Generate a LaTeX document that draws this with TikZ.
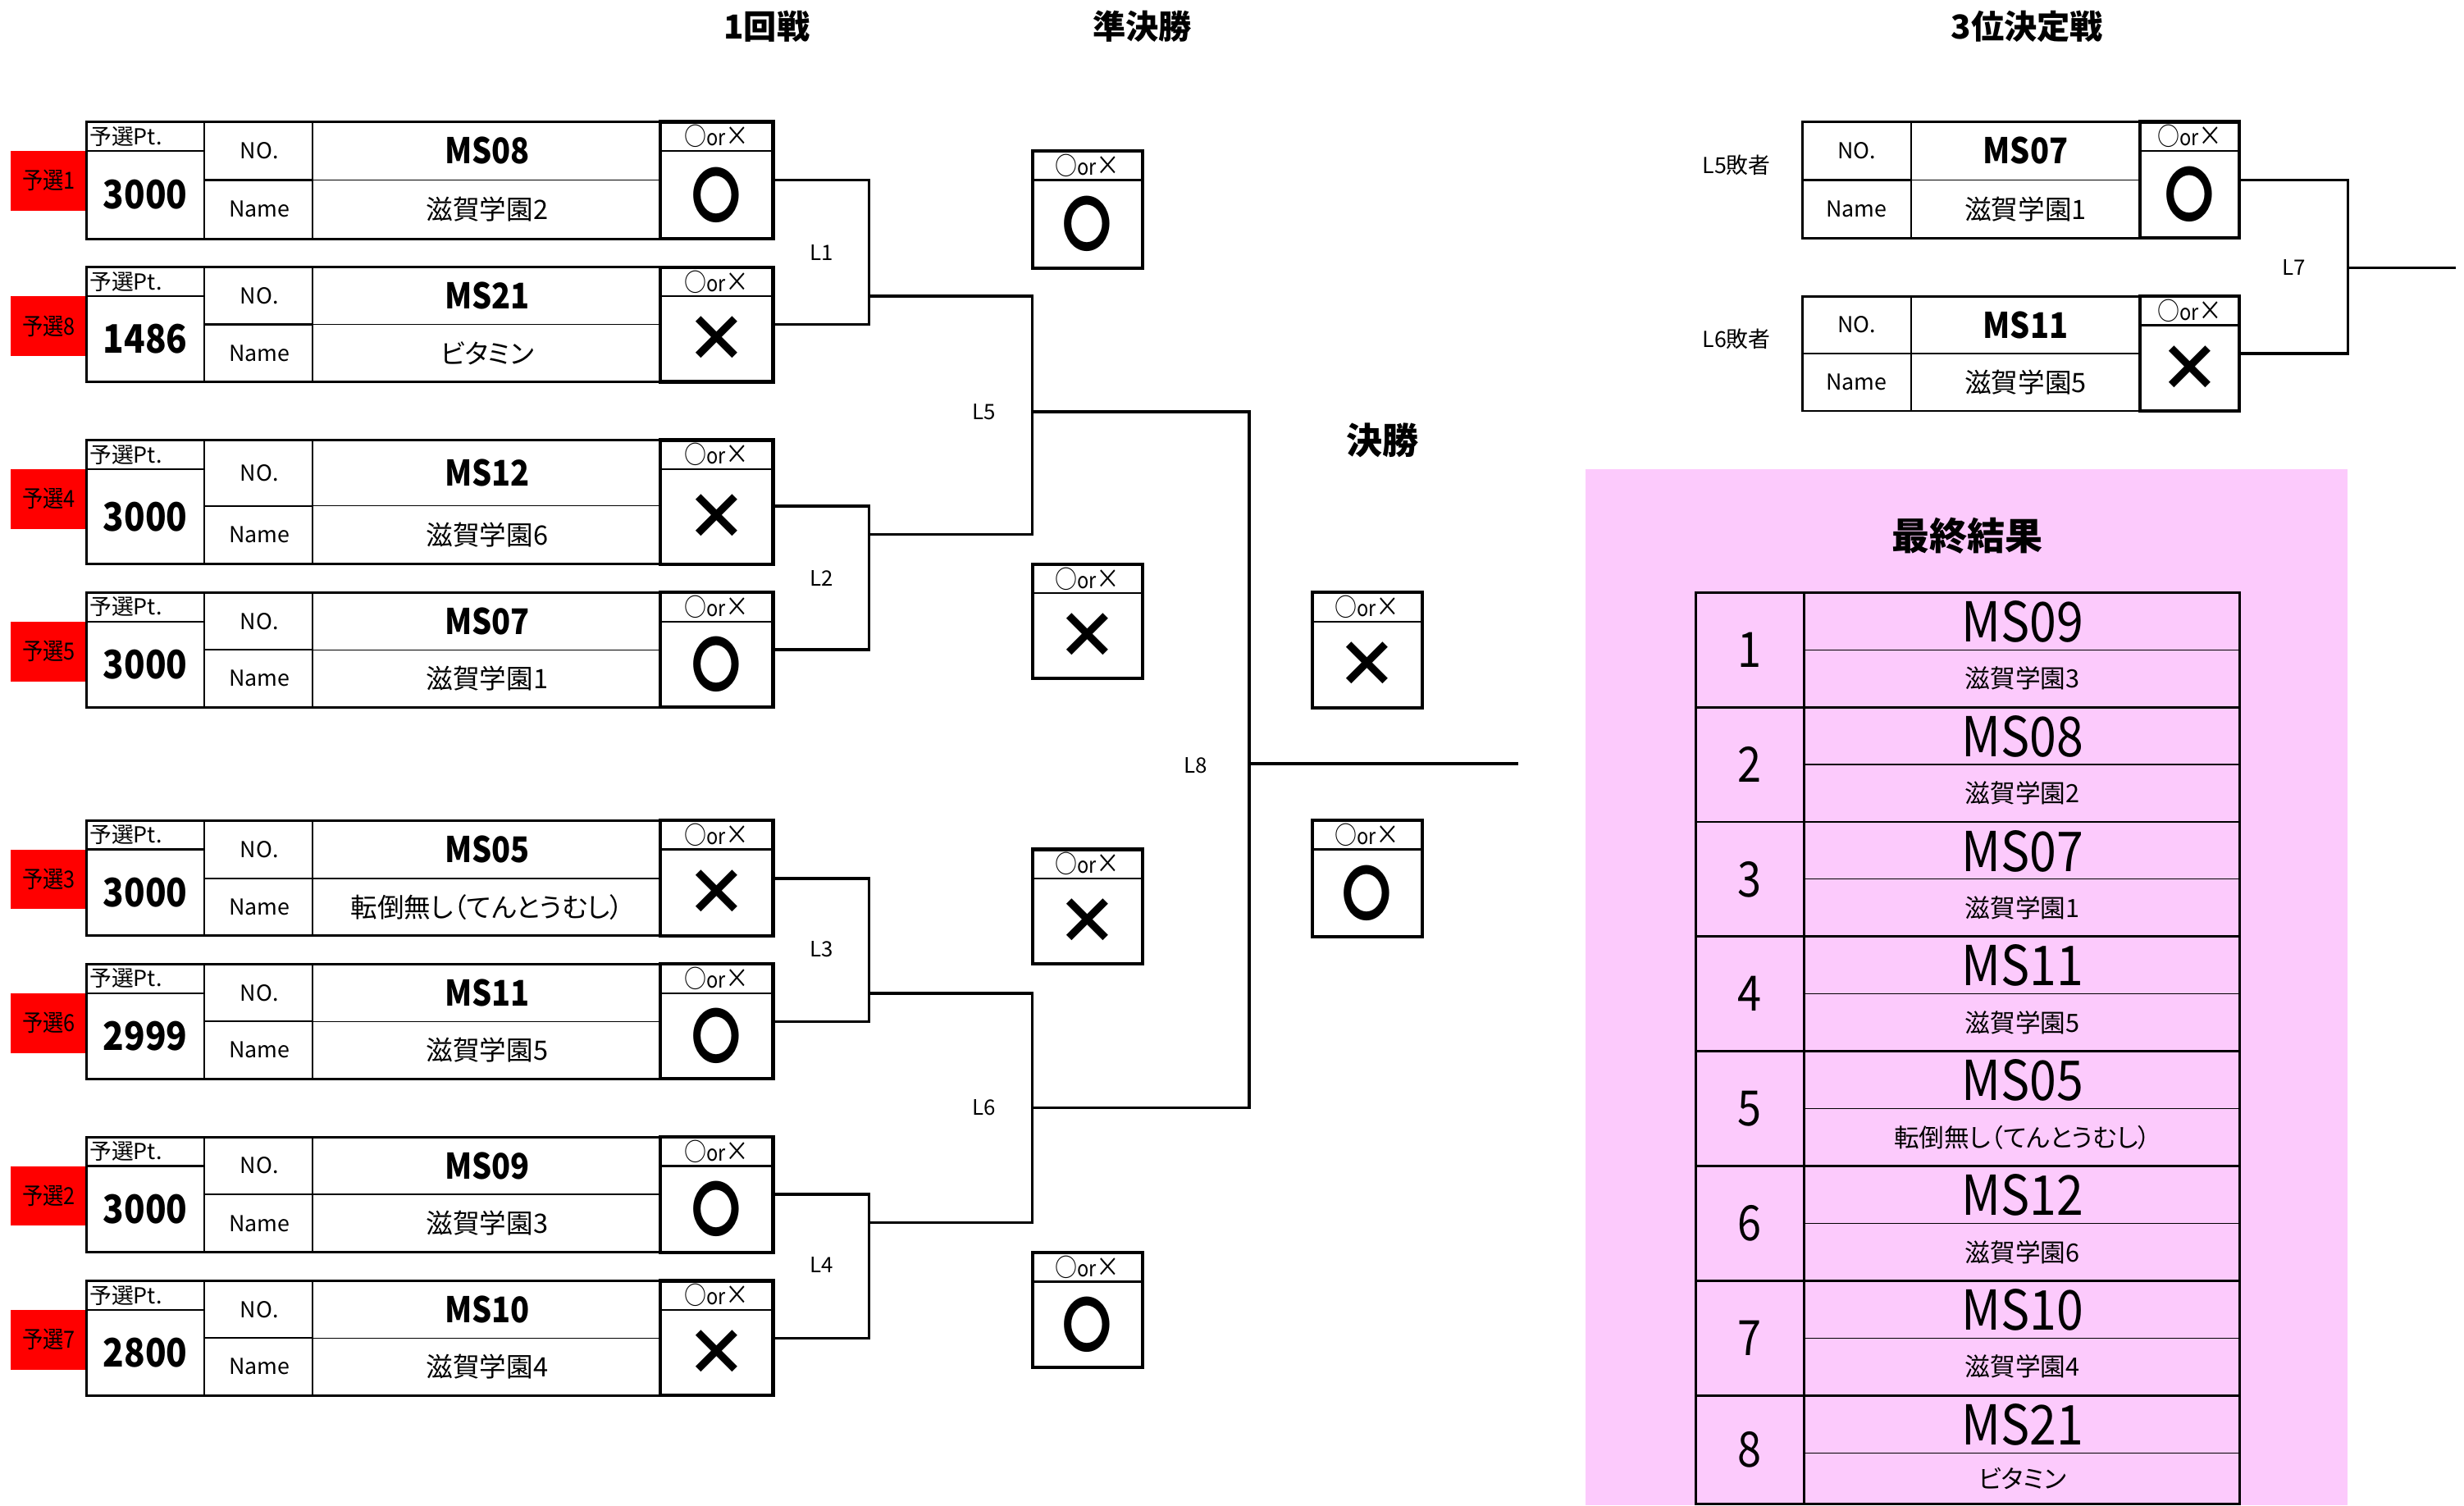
\documentclass[tikz,border=0pt]{standalone}
\usepackage{fontspec}
\setmainfont{Noto Sans CJK JP}[RawFeature=+palt]
\newfontfamily\narrowfont{Noto Sans CJK JP}[FakeStretch=0.88]
\newfontfamily\tallfont{Noto Sans CJK JP}[FakeStretch=0.82]
\definecolor{pinkbg}{RGB}{252,202,252}
\definecolor{labred}{RGB}{255,0,0}
\newcommand{\fs}[1]{\fontsize{#1}{#1}\selectfont}
\newcommand{\omark}{{\bfseries\tallfont\fs{38}〇}}
\newcommand{\xmark}{{\bfseries\fs{40}×}}
\newcommand{\oxhead}{{\narrowfont\fs{16}○\fs{14}or\fs{17}×}}
\tikzset{
  boxline/.style={line width=1.5pt},
  markline/.style={line width=2.2pt},
  midline/.style={line width=1.2pt},
  thinline/.style={line width=0.6pt},
  bracket/.style={line width=1.8pt},
  lbl/.style={inner sep=0pt, outer sep=0pt},
  ttl/.style={lbl, font=\bfseries\fs{21}},
  small/.style={lbl, font=\fs{14}},
  msbold/.style={lbl, font=\bfseries\narrowfont\fs{22.5}},
  team/.style={lbl, font=\fs{17}},
  ptval/.style={lbl, font=\bfseries\narrowfont\fs{25}},
  lnum/.style={lbl, font=\fs{13.5}},
}
% entry: id, top, split, bottom, label, pt, MS, team, mark
\newcommand{\mkentry}[9]{%
  \pgfmathsetmacro{\eH}{#2+18.5}%
  \pgfmathsetmacro{\eR}{\eH+38}%
  \pgfmathsetmacro{\eRm}{\eH+19}%
  \pgfmathsetmacro{\eT}{(#2+#3)/2}%
  \pgfmathsetmacro{\eB}{(#3+#4)/2}%
  \pgfmathsetmacro{\eM}{(\eH+#4)/2}%
  \pgfmathsetmacro{\eHm}{(#2+\eH)/2}%
  \fill[labred] (7,\eH) rectangle (55,\eR);
  \node[lbl, font=\narrowfont\fs{15}] (#1-lab) at (31,\eRm) {#5};
  \draw[midline] (55,\eH) -- (130,\eH);
  \draw[midline] (130,#3) -- (199,#3);
  \draw[thinline] (199,#3) -- (420,#3);
  \draw[midline] (130,#2) -- (130,#4) (199,#2) -- (199,#4);
  \draw[boxline] (55,#2) rectangle (420,#4);
  \draw[midline] (420,\eH) -- (492,\eH);
  \draw[markline] (420,#2) rectangle (492,#4);
  \node[small, anchor=west] (#1-pth) at (57,\eHm) {予選Pt.};
  \node[ptval] (#1-pt) at (92.5,\eM) {#6};
  \node[small] (#1-no) at (165,\eT) {NO.};
  \node[small] (#1-na) at (165,\eB) {Name};
  \node[msbold] (#1-ms) at (310,\eT) {#7};
  \node[team] (#1-tm) at (310,\eB) {#8};
  \node[lbl] (#1-oxh) at (456,\eHm) {\oxhead};
  \node[lbl] (#1-mk) at (456,\eM) {#9};
  \coordinate (#1-out) at (492,#3);
}
% third place entry: id, top, split, bottom, MS, team, mark
\newcommand{\tpentry}[7]{%
  \pgfmathsetmacro{\eH}{#2+18.5}%
  \pgfmathsetmacro{\eT}{(#2+#3)/2}%
  \pgfmathsetmacro{\eB}{(#3+#4)/2}%
  \pgfmathsetmacro{\eM}{(\eH+#4)/2}%
  \pgfmathsetmacro{\eHm}{(#2+\eH)/2}%
  \draw[midline] (1147,#3) -- (1216,#3);
  \draw[thinline] (1216,#3) -- (1362,#3);
  \draw[midline] (1216,#2) -- (1216,#4);
  \draw[boxline] (1147,#2) rectangle (1362,#4);
  \draw[midline] (1362,\eH) -- (1425,\eH);
  \draw[markline] (1362,#2) rectangle (1425,#4);
  \node[small] (#1-no) at (1181.5,\eT) {NO.};
  \node[small] (#1-na) at (1181.5,\eB) {Name};
  \node[msbold] (#1-ms) at (1289,\eT) {#5};
  \node[team] (#1-tm) at (1289,\eB) {#6};
  \node[lbl] (#1-oxh) at (1393.5,\eHm) {\oxhead};
  \node[lbl] (#1-mk) at (1393.5,\eM) {#7};
  \coordinate (#1-out) at (1425,#3);
}
% result box: id, left, top, bottom, mark
\newcommand{\oxbox}[5]{%
  \pgfmathsetmacro{\oH}{#3+18.5}%
  \pgfmathsetmacro{\oC}{#2+35}%
  \pgfmathsetmacro{\oHm}{(#3+\oH)/2}%
  \pgfmathsetmacro{\oM}{(\oH+#4)/2}%
  \pgfmathsetmacro{\oR}{#2+70}%
  \draw[midline] (#2,\oH) -- (\oR,\oH);
  \draw[markline] (#2,#3) rectangle (\oR,#4);
  \node[lbl] (#1-h) at (\oC,\oHm) {\oxhead};
  \node[lbl] (#1-m) at (\oC,\oM) {#5};
}
\begin{document}
\begin{tikzpicture}[x=1pt,y=-1pt]
\useasboundingbox (0,0) rectangle (1568,958);
% titles
\node[ttl] (title1) at (488,17) {1回戦};
\node[ttl] (title2) at (727,17) {準決勝};
\node[ttl] (title3) at (1290,17) {3位決定戦};
\node[ttl, font=\bfseries\fs{23}] (title4) at (880,280) {決勝};
% first round
\mkentry{e1}{77.5}{114.5}{152}{予選1}{3000}{MS08}{滋賀学園2}{\omark}
\mkentry{e2}{170}{206.5}{243}{予選8}{1486}{MS21}{ビタミン}{\xmark}
\mkentry{e3}{280}{322}{359}{予選4}{3000}{MS12}{滋賀学園6}{\xmark}
\mkentry{e4}{377}{413.5}{450}{予選5}{3000}{MS07}{滋賀学園1}{\omark}
\mkentry{e5}{522}{559}{595.5}{予選3}{3000}{MS05}{転倒無し（てんとうむし）}{\xmark}
\mkentry{e6}{613.5}{650}{686.5}{予選6}{2999}{MS11}{滋賀学園5}{\omark}
\mkentry{e7}{723.5}{760}{797}{予選2}{3000}{MS09}{滋賀学園3}{\omark}
\mkentry{e8}{815}{851.5}{888}{予選7}{2800}{MS10}{滋賀学園4}{\xmark}
% semifinal and final boxes
\oxbox{s1}{657}{96}{170.5}{\omark}
\oxbox{s2}{657}{359}{431.5}{\xmark}
\oxbox{s3}{657}{540.5}{613.5}{\xmark}
\oxbox{s4}{657}{797}{870}{\omark}
\oxbox{f1}{835}{377}{450.5}{\xmark}
\oxbox{f2}{835}{522}{596}{\omark}
% bracket
\coordinate (j1) at (553,188.5);
\coordinate (j2) at (553,340);
\coordinate (j3) at (553,632);
\coordinate (j4) at (553,778);
\coordinate (k5) at (657,262);
\coordinate (k6) at (657,705);
\coordinate (k8) at (795,486);
\coordinate (fin) at (966,486);
\draw[bracket] (e1-out) -| (j1) |- (e2-out);
\draw[bracket] (e3-out) -| (j2) |- (e4-out);
\draw[bracket] (e5-out) -| (j3) |- (e6-out);
\draw[bracket] (e7-out) -| (j4) |- (e8-out);
\draw[bracket] (j1) -| (k5) |- (j2);
\draw[bracket] (j3) -| (k6) |- (j4);
\draw[bracket] (k5) -| (k8) |- (k6);
\draw[bracket] (k8) -- (fin);
\node[lnum] (L1) at (523,161) {L1};
\node[lnum] (L2) at (523,368) {L2};
\node[lnum] (L3) at (523,604) {L3};
\node[lnum] (L4) at (523,805) {L4};
\node[lnum] (L5) at (626,262) {L5};
\node[lnum] (L6) at (626,705) {L6};
\node[lnum] (L8) at (761,487) {L8};
% third place
\node[small] (l5lose) at (1105,105) {L5敗者};
\node[small] (l6lose) at (1105,216) {L6敗者};
\tpentry{t1}{77.5}{114.5}{151.5}{MS07}{滋賀学園1}{\omark}
\tpentry{t2}{188.5}{225}{261.5}{MS11}{滋賀学園5}{\xmark}
\coordinate (m7) at (1494,170.5);
\coordinate (l7end) at (1563,170.5);
\draw[bracket] (t1-out) -| (m7) |- (t2-out);
\draw[bracket] (m7) -- (l7end);
\node[lnum] (L7) at (1460,170) {L7};
% final result
\fill[pinkbg] (1009,298.5) rectangle (1494,958);
\node[lbl, font=\bfseries\fs{24}] (resttl) at (1252,341) {最終結果};
\foreach \n/\ms/\tm [count=\i from 0] in {1/MS09/滋賀学園3, 2/MS08/滋賀学園2, 3/MS07/滋賀学園1, 4/MS11/滋賀学園5, 5/MS05/転倒無し（てんとうむし）, 6/MS12/滋賀学園6, 7/MS10/滋賀学園4, 8/MS21/ビタミン}{
  \pgfmathsetmacro{\rt}{377+73*\i}
  \pgfmathsetmacro{\rs}{\rt+36.5}
  \pgfmathsetmacro{\rb}{min(\rt+73,957)}
  \pgfmathsetmacro{\rmid}{(\rt+\rb)/2}
  \pgfmathsetmacro{\rms}{\rt+18.5}
  \pgfmathsetmacro{\rtm}{(\rs+\rb)/2}
  \draw[thinline] (1148,\rs) -- (1425,\rs);
  \draw[midline] (1148,\rt) -- (1148,\rb);
  \draw[boxline] (1079,\rt) rectangle (1425,\rb);
  \node[lbl, font=\narrowfont\fs{31}] (r\n-rank) at (1113.5,\rmid) {\n};
  \node[lbl, font=\narrowfont\fs{35}] (r\n-ms) at (1287,\rms) {\ms};
  \node[lbl, font=\fs{16}] (r\n-tm) at (1287,\rtm) {\tm};
}
\end{tikzpicture}
\end{document}
